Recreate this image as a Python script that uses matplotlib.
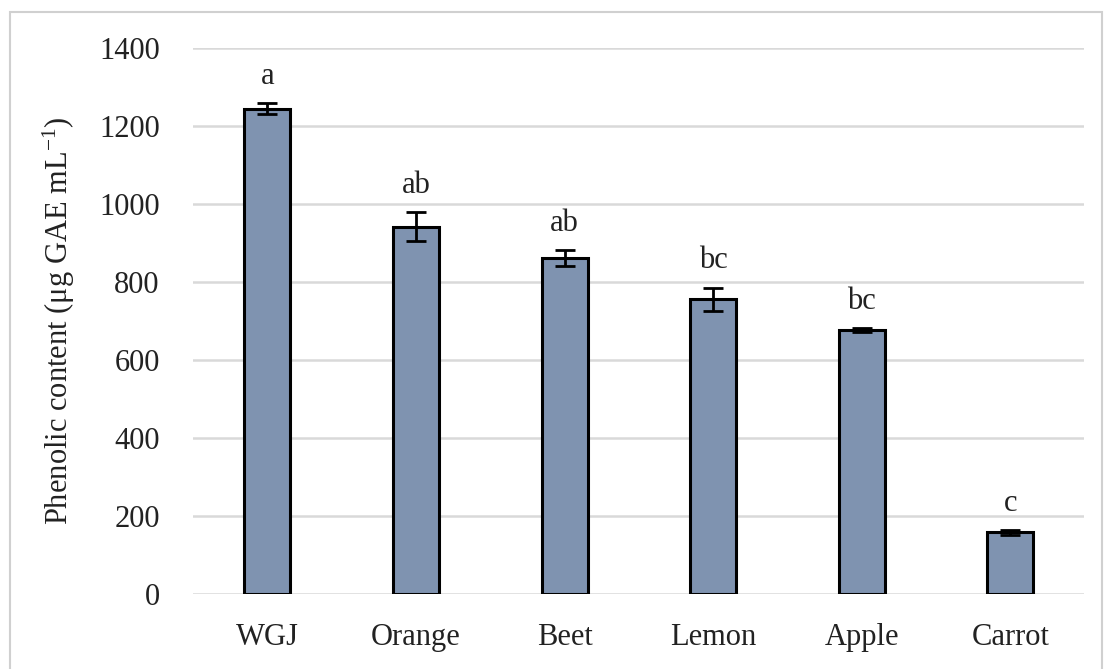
import numpy as np
import matplotlib
matplotlib.use("Agg")
import matplotlib.pyplot as plt
from matplotlib.patches import Rectangle

plt.rcParams['font.family'] = ['Liberation Serif', 'DejaVu Serif']
plt.rcParams['mathtext.fontset'] = 'custom'
plt.rcParams['mathtext.rm'] = 'Liberation Serif'
plt.rcParams['mathtext.it'] = 'Liberation Serif:italic'

# juice samples, mean phenolic content and SD
juices = ["WGJ", "Orange", "Beet", "Lemon", "Apple", "Carrot"]
phenolic = [1245, 942, 862, 756, 677, 158]
phenolic_err = [14, 37, 20, 29, 5, 6]
letters = ["a", "ab", "ab", "bc", "bc", "c"]

fig = plt.figure(figsize=(11.1, 6.69), dpi=100)
ax = fig.add_axes([0.174, 0.112, 0.803, 0.816])

x = np.arange(len(juices))
ax.bar(x, phenolic, width=0.31, color="#7f93b0", edgecolor="black", linewidth=2.2,
       yerr=phenolic_err, error_kw=dict(ecolor="black", elinewidth=2, capsize=7, capthick=2),
       zorder=3)

for xi, v, e, lab in zip(x, phenolic, phenolic_err, letters):
    ax.annotate(lab, (xi, v + e), xytext=(0, 9), textcoords="offset points",
                ha="center", va="bottom", fontsize=22, color="#222222")

ax.set_xlim(-0.5, len(juices) - 0.5)
ax.set_ylim(0, 1400)
ax.set_yticks(np.arange(0, 1401, 200))
ax.set_xticks(x)
ax.set_xticklabels(juices)
ax.yaxis.grid(True, color="#d9d9d9", linewidth=1.8, zorder=0)
ax.set_axisbelow(True)
for s in ax.spines.values():
    s.set_visible(False)
ax.tick_params(length=0, labelsize=22, colors="#222222", pad=24)
ax.tick_params(axis="x", pad=21)
ax.set_ylabel(r"Phenolic content (μg GAE mL$^{-1}$)", fontsize=22, color="#222222", labelpad=16)

# thin frame around the whole chart area
fig.patches.append(Rectangle((0.009, -0.01), 0.984, 0.992, transform=fig.transFigure,
                             fill=False, edgecolor="#d0d0d0", linewidth=1.5))

fig.savefig("out.png", dpi=100, facecolor="white")
